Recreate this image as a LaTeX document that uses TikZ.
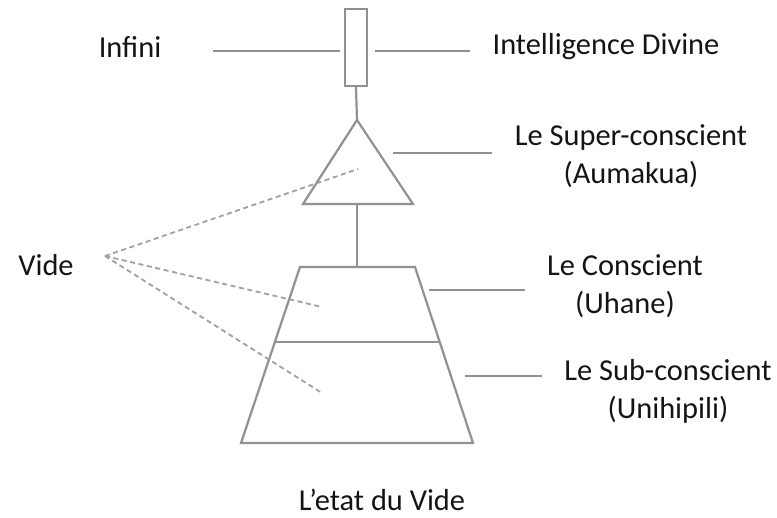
\documentclass[tikz,border=0pt]{standalone}
\usepackage{fontspec}
\setmainfont{Carlito}
\usepackage{xcolor}
\usetikzlibrary{positioning}

\definecolor{linegray}{RGB}{145,145,145}
\definecolor{dashgray}{RGB}{160,160,160}
\definecolor{textgray}{RGB}{20,20,20}

\tikzset{
    gline/.style={draw=linegray, line width=1.1pt},
    vline/.style={draw=dashgray, line width=0.9pt, dash pattern=on 2.5pt off 1.8pt},
    lbl/.style={text=textgray, font=\fontsize{15.2}{19}\selectfont, inner sep=0pt}
}

\begin{document}
\begin{tikzpicture}[x=0.5pt, y=-0.5pt]
                \useasboundingbox (0,0) rectangle (777,518);

                % labels
                \node[lbl] (infini) at (130,47) {Infini};
                \node[lbl] (divine) at (606,47) {Intelligence Divine};
                \node[lbl, align=center] (super) at (631,156) {Le Super-conscient\\(Aumakua)};
                \node[lbl, align=center] (conscient) at (625,286) {Le Conscient\\(Uhane)};
                \node[lbl, align=center] (sub) at (668,391) {Le Sub-conscient\\(Unihipili)};
                \node[lbl] (vide) at (46,265) {Vide};
                \node[lbl] (etat) at (382,500) {L’etat du Vide};

                % the rod at the top
                \node[gline, minimum width=11pt, minimum height=38.5pt, inner sep=0pt] (rod) at (356,47.5) {};

                % triangle
                \coordinate (tapex) at (357,120);
                \coordinate (tleft) at (303,204);
                \coordinate (tright) at (413,204);
                \coordinate (tbase) at (357,204);
                \draw[gline] (tapex) -- (tright) -- (tleft) -- cycle;

                % trapezoid
                \coordinate (ztl) at (300,267);
                \coordinate (ztr) at (415,267);
                \coordinate (zbr) at (473,443);
                \coordinate (zbl) at (241,443);
                \coordinate (ztop) at (357,267);
                \coordinate (zml) at (276,342);
                \coordinate (zmr) at (439,342);
                \draw[gline] (ztl) -- (ztr) -- (zbr) -- (zbl) -- cycle;
                \draw[gline] (zml) -- (zmr);

                % stems
                \draw[gline] (rod.south) -- (tapex);
                \draw[gline] (tbase) -- (ztop);

                % leader lines
                \coordinate (infL1) at (213,51);
                \coordinate (infL2) at (340,51);
                \coordinate (divL1) at (375,51);
                \coordinate (divL2) at (470,51);
                \coordinate (supL1) at (393,153);
                \coordinate (supL2) at (492,153);
                \coordinate (conL1) at (429,290);
                \coordinate (conL2) at (525,290);
                \coordinate (subL1) at (465,376);
                \coordinate (subL2) at (542,376);
                \draw[gline] (infL1) -- (infL2);
                \draw[gline] (divL1) -- (divL2);
                \draw[gline] (supL1) -- (supL2);
                \draw[gline] (conL1) -- (conL2);
                \draw[gline] (subL1) -- (subL2);

                % dashed lines from Vide
                \coordinate (vfocus) at (105,256);
                \coordinate (vsup) at (358,169);
                \coordinate (vcon) at (322,307);
                \coordinate (vsub) at (322,393);
                \draw[vline] (vfocus) -- (vsup);
                \draw[vline] (vfocus) -- (vcon);
                \draw[vline] (vfocus) -- (vsub);
            \end{tikzpicture}
\end{document}
